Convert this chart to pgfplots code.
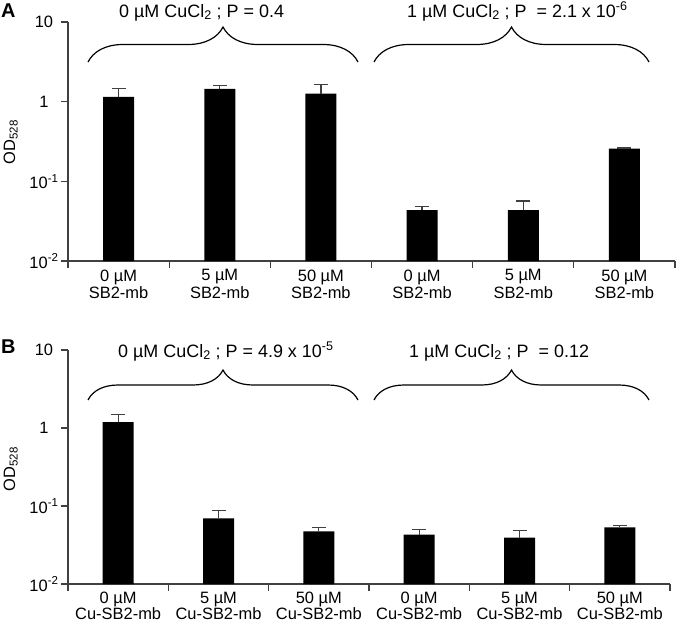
\documentclass[border=0pt]{standalone}
\usepackage{fontspec}
\setmainfont{Liberation Sans}
\usepackage{pgfplots}
\usepackage{pgfplotstable}
\pgfplotsset{compat=1.18}
\usetikzlibrary{decorations.pathreplacing}
\pgfplotstableread{
x y e
0 1.15 0.30
1 1.45 0.13
2 1.26 0.37
3 0.0434 0.0053
4 0.0434 0.0133
5 0.258 0.004
}\dataA
\pgfplotstableread{
x y e
0 1.19 0.29
1 0.0695 0.0185
2 0.0473 0.0054
3 0.0429 0.0071
4 0.0392 0.0088
5 0.0532 0.0033
}\dataB
\definecolor{axgray}{gray}{0.25}
\newcommand{\fs}{\fontsize{16.5}{18.5}\selectfont}
\newcommand{\ft}{\fontsize{18}{20}\selectfont}
\begin{document}
\begin{tikzpicture}
\path[use as bounding box] (0,0) rectangle (680bp,-625bp);
% Panel A
\begin{axis}[scale only axis,
    ymode=log, ymin=0.01, ymax=10, log origin y=infty,
    xmin=-0.5, xmax=5.5,
    axis x line*=bottom, axis y line*=left,
    axis line style={axgray, line width=1.2pt},
    ytick={0.01,0.1,1,10},
    yticklabels={10\textsuperscript{-2},10\textsuperscript{-1},1,10},
    yminorticks=false,
    xtick={0,...,5},
    minor xtick={-0.5,0.5,...,5.5},
    every major x tick/.style={draw=none},
    minor tick length=7bp, major tick length=7bp,
    tick align=outside,
    tick style={axgray, line width=1.2pt},
    xticklabel style={align=center, font=\fontsize{16.5}{17.5}\selectfont, inner sep=1.5bp},
    yticklabel style={font=\fs, anchor=center, xshift=-17bp},
    ybar, bar width=31bp,
    clip=false,
  at={(68bp,-261bp)}, anchor=south west,
  width=607bp, height=239bp,
  xticklabels={{0 µM\\SB2-mb},{5 µM\\SB2-mb},{50 µM\\SB2-mb},{0 µM\\SB2-mb},{5 µM\\SB2-mb},{50 µM\\SB2-mb}}]
\addplot[fill=black, draw=none,
    error bars/.cd, y dir=plus, y explicit,
    error bar style={axgray, line width=1.2pt},
    error mark options={axgray, line width=1.2pt, mark size=7bp, rotate=90}]
  table[x=x, y=y, y error plus=e] {\dataA};
\end{axis}
% Panel B
\begin{axis}[scale only axis,
    ymode=log, ymin=0.01, ymax=10, log origin y=infty,
    xmin=-0.5, xmax=5.5,
    axis x line*=bottom, axis y line*=left,
    axis line style={axgray, line width=1.2pt},
    ytick={0.01,0.1,1,10},
    yticklabels={10\textsuperscript{-2},10\textsuperscript{-1},1,10},
    yminorticks=false,
    xtick={0,...,5},
    minor xtick={-0.5,0.5,...,5.5},
    every major x tick/.style={draw=none},
    minor tick length=7bp, major tick length=7bp,
    tick align=outside,
    tick style={axgray, line width=1.2pt},
    xticklabel style={align=center, font=\fontsize{16.5}{16}\selectfont, inner sep=1bp},
    yticklabel style={font=\fs, anchor=center, xshift=-17bp},
    ybar, bar width=31bp,
    clip=false,
  at={(68bp,-584bp)}, anchor=south west,
  width=602bp, height=234bp,
  xticklabels={{0 µM\\Cu-SB2-mb},{5 µM\\Cu-SB2-mb},{50 µM\\Cu-SB2-mb},{0 µM\\Cu-SB2-mb},{5 µM\\Cu-SB2-mb},{50 µM\\Cu-SB2-mb}}]
\addplot[fill=black, draw=none,
    error bars/.cd, y dir=plus, y explicit,
    error bar style={axgray, line width=1.2pt},
    error mark options={axgray, line width=1.2pt, mark size=7bp, rotate=90}]
  table[x=x, y=y, y error plus=e] {\dataB};
\end{axis}
% labels
\node[anchor=base west, font=\fontsize{20}{22}\selectfont\bfseries, inner sep=0pt] at (1bp,-17bp) {A};
\node[anchor=base west, font=\fontsize{20}{22}\selectfont\bfseries, inner sep=0pt] at (1bp,-353bp) {B};
\node[rotate=90, anchor=base, font=\fs, inner sep=0pt] at (15bp,-142bp) {OD\textsubscript{528}};
\node[rotate=90, anchor=base, font=\fs, inner sep=0pt] at (15bp,-469bp) {OD\textsubscript{528}};
% group titles
\node[anchor=base west, font=\ft, inner sep=0pt] at (119bp,-17bp) {0 µM CuCl\textsubscript{2} ; P = 0.4};
\node[anchor=base west, font=\ft, inner sep=0pt] at (407bp,-17bp) {1 µM CuCl\textsubscript{2} ; P ~= 2.1 x 10\textsuperscript{-6}};
\node[anchor=base west, font=\ft, inner sep=0pt] at (118bp,-357bp) {0 µM CuCl\textsubscript{2} ; P = 4.9 x 10\textsuperscript{-5}};
\node[anchor=base west, font=\ft, inner sep=0pt] at (409bp,-357bp) {1 µM CuCl\textsubscript{2} ; P ~= 0.12};
% braces
\begin{scope}[line width=1.2pt, black]
\draw[decorate, decoration={brace, amplitude=35bp}] (88bp,-62bp) -- (358bp,-62bp);
\draw[decorate, decoration={brace, amplitude=35bp}] (374bp,-62bp) -- (649bp,-62bp);
\draw[decorate, decoration={brace, amplitude=30bp}] (88bp,-400bp) -- (358bp,-400bp);
\draw[decorate, decoration={brace, amplitude=30bp}] (374bp,-400bp) -- (649bp,-400bp);
\end{scope}
\end{tikzpicture}
\end{document}
